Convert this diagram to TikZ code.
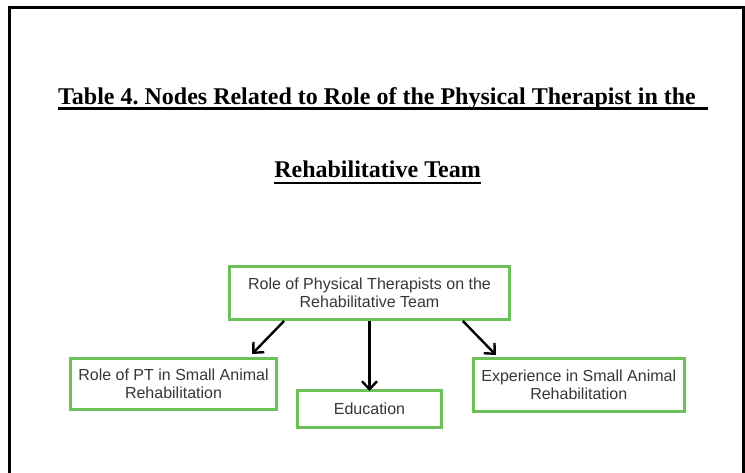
\documentclass[tikz,border=0pt]{standalone}
\usepackage{fontspec}
\setmainfont{Liberation Serif}
\newfontfamily\boxfont{Liberation Sans}
\usetikzlibrary{arrows.meta,calc}
\definecolor{boxgreen}{RGB}{108,192,88}
\definecolor{boxtext}{RGB}{55,55,55}
\frenchspacing
\tikzset{
  conceptbox/.style={draw=boxgreen, line width=3pt, fill=white, align=center,
    inner sep=0pt, font=\boxfont\fontsize{16}{18.4}\selectfont, text=boxtext},
  linkarrow/.style={line width=2.4pt, -{Straight Barb[length=8pt,width=15pt,line width=2.4pt]}},
  titletext/.style={anchor=base, inner sep=0pt, font=\bfseries\fontsize{24}{28}\selectfont},
  titlerule/.style={line width=2.6pt}
}
\begin{document}
\begin{tikzpicture}[x=1pt,y=-1pt]
\useasboundingbox (0,0) rectangle (745,473);
% outer frame (open at bottom)
\draw[line width=3pt] (9.5,473) -- (9.5,8) -- (743.5,8) -- (743.5,473);
% title
\node[titletext] (t1) at (377,105) {Table 4. Nodes Related to Role of the Physical Therapist in the};
\node[titletext] (t2) at (377.5,178) {Rehabilitative Team};
\draw[titlerule] ([yshift=-3.8pt]t1.base west) -- ([yshift=-3.8pt,xshift=12pt]t1.base east);
\draw[titlerule] ([yshift=-5pt]t2.base west) -- ([yshift=-5pt]t2.base east);
% boxes
\node[conceptbox, minimum width=280pt, minimum height=53pt] (top) at (369.5,293) {Role of Physical Therapists on the\\Rehabilitative Team};
\node[conceptbox, minimum width=206pt, minimum height=51pt] (left) at (173.5,384) {Role of PT in Small Animal\\Rehabilitation};
\node[conceptbox, minimum width=144pt, minimum height=37pt] (mid) at (369.5,409) {Education};
\node[conceptbox, minimum width=210.5pt, minimum height=53pt] (right) at (578.75,385) {Experience in Small Animal\\Rehabilitation};
% arrows
\draw[linkarrow] ($(top.south west)!0.198!(top.south east)$) -- ($(left.north west)!0.876!(left.north east)+(0,-3)$);
\draw[linkarrow] (top.south) -- ([yshift=-2pt]mid.north);
\draw[linkarrow] ($(top.south west)!0.83!(top.south east)$) -- ($(right.north west)!0.112!(right.north east)+(0,-2)$);
\end{tikzpicture}
\end{document}
